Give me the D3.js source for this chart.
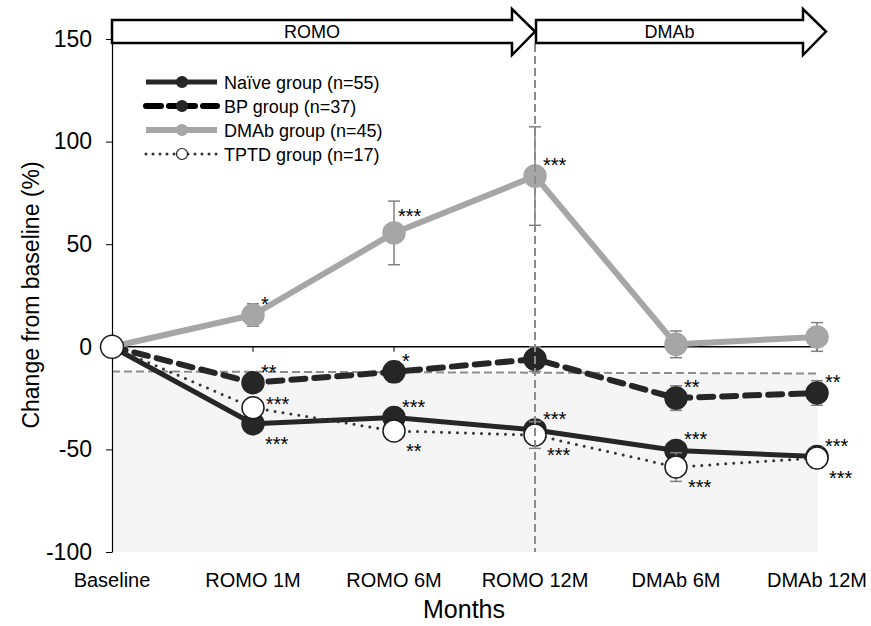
<!DOCTYPE html>
<html>
<head>
<meta charset="utf-8">
<script src="https://cdn.jsdelivr.net/npm/d3@7"></script>
<style>
  body { margin: 0; background: #fff; }
  svg { font-family: "Liberation Sans", Arial, sans-serif; }
</style>
</head>
<body>
<svg id="chart" width="871" height="626"></svg>
<script>
// ---------- data ----------
const categories = ["Baseline", "ROMO 1M", "ROMO 6M", "ROMO 12M", "DMAb 6M", "DMAb 12M"];
const yTicks = [-100, -50, 0, 50, 100, 150];

const naiveValues = [0, -37.5, -34.5, -40.5, -50.5, -53.5];
const naiveErrors = [0, 3, 3, 4, 4, 3];
const naiveSig    = ["", "***", "***", "***", "***", "***"];
const naiveSigPos = ["", "se", "ne", "ne", "ne", "ne"];

const bpValues = [0, -17.5, -12.2, -6, -25, -22.5];
const bpErrors = [0, 4, 5, 6, 6, 6];
const bpSig    = ["", "**", "*", "", "**", "**"];
const bpSigPos = ["", "ne", "ne", "", "ne", "ne"];

const dmabValues = [0, 15.5, 55.5, 83.2, 1.2, 4.8];
const dmabErrors = [0, 5.5, 15.5, 24, 6.5, 7];
const dmabSig    = ["", "*", "***", "***", "", ""];
const dmabSigPos = ["", "ne", "nee", "ne", "", ""];

const tptdValues = [0, -29.7, -41, -43, -58.6, -54.2];
const tptdErrors = [0, 4, 4, 6.5, 7, 5];
const tptdSig    = ["", "***", "**", "***", "***", "***"];
const tptdSigPos = ["", "e", "se", "se", "se", "se"];

const legendLabels = ["Naïve group (n=55)", "BP group (n=37)", "DMAb group (n=45)", "TPTD group (n=17)"];
const phaseLabels = ["ROMO", "DMAb"];
const thresholdValues = [-12, -13]; // dashed reference line at Baseline and DMAb 12M

// ---------- layout ----------
const FONT = "Liberation Sans, Arial, sans-serif";
const svg = d3.select("#chart");
const x = d3.scalePoint().domain(categories).range([112, 817]).padding(0);
const y = d3.scaleLinear().domain([-100, 150]).range([552, 39]);

const series = [
  { name: legendLabels[1], values: bpValues, errors: bpErrors, sig: bpSig, pos: bpSigPos,
    stroke: "#262626", width: 6, dash: "14,9", legendDash: "15,8,26,8,14", cap: "round", fill: "#262626", mstroke: "#262626" },
  { name: legendLabels[0], values: naiveValues, errors: naiveErrors, sig: naiveSig, pos: naiveSigPos,
    stroke: "#262626", width: 5, dash: null, legendDash: null, cap: "butt", fill: "#262626", mstroke: "#262626" },
  { name: legendLabels[2], values: dmabValues, errors: dmabErrors, sig: dmabSig, pos: dmabSigPos,
    stroke: "#a6a6a6", width: 6, dash: null, legendDash: null, cap: "butt", fill: "#a6a6a6", mstroke: "#a6a6a6" },
  { name: legendLabels[3], values: tptdValues, errors: tptdErrors, sig: tptdSig, pos: tptdSigPos,
    stroke: "#333333", width: 3, dash: "0,8", legendDash: "0,7", cap: "round", fill: "#ffffff", mstroke: "#1a1a1a" }
];

// shaded region below the threshold line
const x0 = x(categories[0]), x1 = x(categories[categories.length - 1]);
svg.append("polygon")
  .attr("points", [[x0, y(thresholdValues[0])], [x1 + 1, y(thresholdValues[1])], [x1 + 1, y(-100)], [x0, y(-100)]].join(" "))
  .attr("fill", "#f5f5f5");

// threshold dashed line
svg.append("line")
  .attr("x1", x0).attr("x2", x1)
  .attr("y1", y(thresholdValues[0])).attr("y2", y(thresholdValues[1]))
  .attr("stroke", "#8c8c8c").attr("stroke-width", 2).attr("stroke-dasharray", "8,4");

// y axis
const yAxis = svg.append("g")
  .attr("transform", `translate(${x0},0)`)
  .call(d3.axisLeft(y).tickValues(yTicks).tickSize(6).tickSizeOuter(0).tickPadding(14).tickFormat(d => String(d)));
yAxis.select(".domain").attr("stroke", "#000").attr("stroke-width", 1.2);
yAxis.selectAll(".tick line").attr("stroke", "#000");
yAxis.selectAll(".tick text").attr("font-size", 23).attr("fill", "#000")
  .attr("font-family", FONT);

// zero line with ticks
svg.append("line")
  .attr("x1", x0).attr("x2", x1).attr("y1", y(0)).attr("y2", y(0))
  .attr("stroke", "#000").attr("stroke-width", 1.5);
svg.selectAll(".xtick").data(categories.slice(1)).enter().append("line")
  .attr("x1", d => x(d)).attr("x2", d => x(d))
  .attr("y1", y(0)).attr("y2", y(0) + 5)
  .attr("stroke", "#000").attr("stroke-width", 1);

// x category labels
svg.selectAll(".xlab").data(categories).enter().append("text")
  .attr("x", d => x(d)).attr("y", 587)
  .attr("text-anchor", "middle").attr("font-size", 20).attr("fill", "#000")
  .text(d => d);

// axis titles
svg.append("text").attr("x", 464).attr("y", 618).attr("text-anchor", "middle")
  .attr("font-size", 25).attr("fill", "#000").text("Months");
svg.append("text").attr("transform", "translate(39,295) rotate(-90)").attr("text-anchor", "middle")
  .attr("font-size", 23).attr("fill", "#000").text("Change from baseline (%)");

// series lines
const line = d3.line().x((d, i) => x(categories[i])).y(d => y(d));
series.forEach(s => {
  svg.append("path").datum(s.values)
    .attr("d", line).attr("fill", "none")
    .attr("stroke", s.stroke).attr("stroke-width", s.width)
    .attr("stroke-linecap", s.cap).attr("stroke-linejoin", "round")
    .attr("stroke-dasharray", s.dash);
});

// error bars + markers (drawn per series so later series sit on top)
series.forEach(s => {
  const g = svg.append("g");
  s.values.forEach((v, i) => {
    if (i === 0) return;
    const cx = x(categories[i]);
    const e = s.errors[i];
    g.append("line").attr("x1", cx).attr("x2", cx).attr("y1", y(v + e)).attr("y2", y(v - e))
      .attr("stroke", "#808080").attr("stroke-width", 1.5);
    [v + e, v - e].forEach(w => g.append("line")
      .attr("x1", cx - 6).attr("x2", cx + 6).attr("y1", y(w)).attr("y2", y(w))
      .attr("stroke", "#808080").attr("stroke-width", 1.5));
  });
  g.selectAll("circle").data(s.values.slice(1)).enter().append("circle")
    .attr("cx", (d, i) => x(categories[i + 1])).attr("cy", d => y(d)).attr("r", 11)
    .attr("fill", s.fill).attr("stroke", s.mstroke).attr("stroke-width", 1.5);
});

// baseline marker (white, shared)
svg.append("circle").attr("cx", x0).attr("cy", y(tptdValues[0])).attr("r", 11.5)
  .attr("fill", "#fff").attr("stroke", "#1a1a1a").attr("stroke-width", 1.5);

// significance stars
const offsets = { ne: [8, -15], nee: [4, -21], se: [12, 16], e: [13, -8] };
series.forEach(s => {
  s.sig.forEach((t, i) => {
    if (!t) return;
    const o = offsets[s.pos[i]];
    svg.append("text")
      .attr("x", x(categories[i]) + o[0]).attr("y", y(s.values[i]) + o[1] + 11)
      .attr("font-size", 20).attr("fill", "#000").text(t);
  });
});

// vertical dashed separator
svg.append("line")
  .attr("x1", x(categories[3])).attr("x2", x(categories[3]))
  .attr("y1", 44).attr("y2", y(-100))
  .attr("stroke", "#8c8c8c").attr("stroke-width", 2).attr("stroke-dasharray", "8,4");

// phase arrows
function arrow(xStart, xTip, label) {
  const top = 20, bot = 43, hTop = 9, hBot = 55, mid = (top + bot) / 2, hx = xTip - 23;
  svg.append("polygon")
    .attr("points", [[xStart, top], [hx, top], [hx, hTop], [xTip, mid], [hx, hBot], [hx, bot], [xStart, bot]].join(" "))
    .attr("fill", "#fff").attr("stroke", "#000").attr("stroke-width", 2.5).attr("stroke-linejoin", "miter");
  svg.append("text").attr("x", (xStart + hx) / 2).attr("y", mid + 6.5)
    .attr("text-anchor", "middle").attr("font-size", 18).attr("fill", "#000").text(label);
}
arrow(x0, x(categories[3]), phaseLabels[0]);
arrow(x(categories[3]) + 1, 826, phaseLabels[1]);

// legend
const legendOrder = [series[1], series[0], series[2], series[3]];
const lg = svg.append("g");
legendOrder.forEach((s, i) => {
  const ly = 82 + i * 24;
  lg.append("line").attr("x1", 146).attr("x2", 217).attr("y1", ly).attr("y2", ly)
    .attr("stroke", s === series[0] ? "#000" : s.stroke).attr("stroke-width", s.width)
    .attr("stroke-linecap", s.cap).attr("stroke-dasharray", s.legendDash);
  lg.append("circle").attr("cx", 182).attr("cy", ly).attr("r", 5.5)
    .attr("fill", s.fill).attr("stroke", s.mstroke).attr("stroke-width", 1.2);
  lg.append("text").attr("x", 224).attr("y", ly + 6.5).attr("font-size", 18).attr("fill", "#000").text(s.name);
});
</script>
</body>
</html>
